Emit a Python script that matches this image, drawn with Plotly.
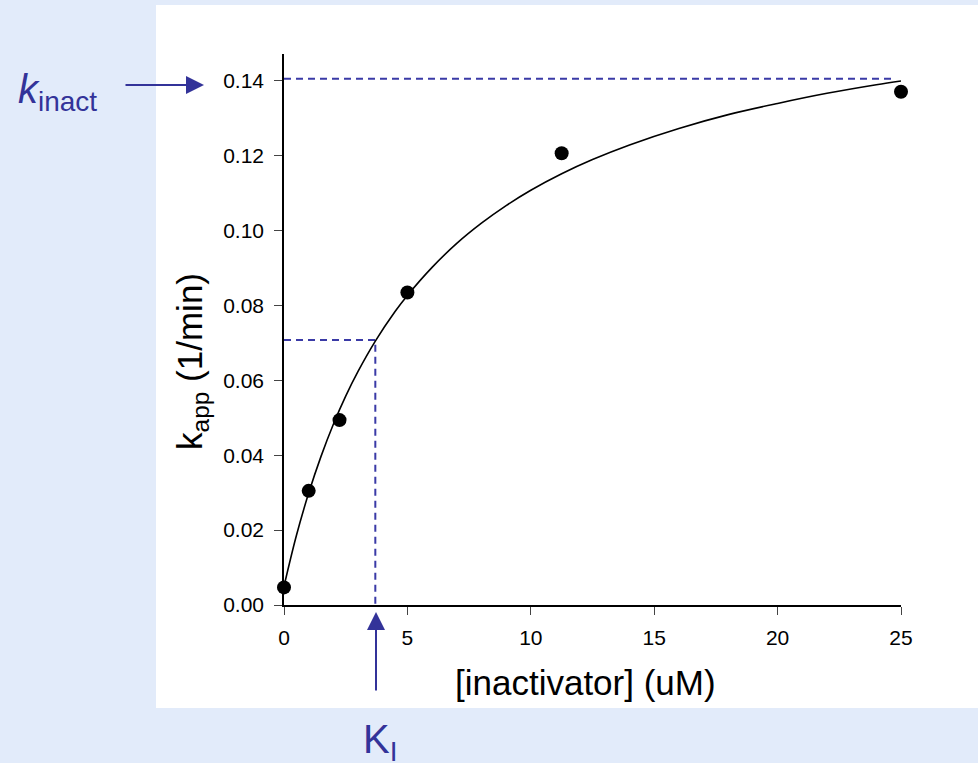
import plotly.graph_objects as go

# measured data points
conc = [0, 1, 2.25, 5, 11.25, 25]
kapp = [0.0047, 0.0305, 0.0494, 0.0835, 0.1207, 0.1371]

# fitted curve, values
fit_x = [0, 0.5, 1, 1.5, 2, 2.5, 3, 3.7, 4.5, 5, 6, 7, 8, 9, 10, 11.25,
         12.5, 14, 16, 18, 20, 22, 24, 25]
fit_y = [0.0050, 0.0185, 0.0299, 0.0397, 0.0483, 0.0558, 0.0624, 0.0705,
         0.0784, 0.0827, 0.0902, 0.0966, 0.1020, 0.1067, 0.1108, 0.1152,
         0.1190, 0.1229, 0.1273, 0.1310, 0.1340, 0.1367, 0.1390, 0.1400]

# guide lines
ki_x = [0, 3.7, 3.7]
ki_y = [0.0708, 0.0708, 0]
kinact_x = [0, 24.7]
kinact_y = [0.1406, 0.1406]

x_ticks = [0, 5, 10, 15, 20, 25]
y_ticks = [0, 0.02, 0.04, 0.06, 0.08, 0.10, 0.12, 0.14]

BLUE = "#333399"
DASH = "#3A3AA6"
W, H = 978, 763
L, R, T, B = 284, 77, 54, 158
pw, ph = W - L - R, H - T - B


def px(x):
    return (x - L) / pw


def py(y):
    return (H - B - y) / ph


fig = go.Figure()
fig.add_trace(go.Scatter(x=kinact_x, y=kinact_y, mode="lines",
                         line=dict(color=DASH, width=2, dash="7px,5px"),
                         hoverinfo="skip", cliponaxis=False))
fig.add_trace(go.Scatter(x=ki_x, y=ki_y, mode="lines",
                         line=dict(color=DASH, width=2, dash="7px,5px"),
                         hoverinfo="skip", cliponaxis=False))
fig.add_trace(go.Scatter(x=fit_x, y=fit_y, mode="lines",
                         line=dict(color="black", width=1.6, shape="spline"),
                         cliponaxis=False))
fig.add_trace(go.Scatter(x=conc, y=kapp, mode="markers",
                         marker=dict(color="black", size=14),
                         cliponaxis=False))

fig.add_shape(type="rect", xref="paper", yref="paper",
              x0=px(156), x1=px(980), y0=py(708), y1=py(5),
              fillcolor="white", line=dict(width=0), layer="below")

font = "Arial, Liberation Sans, sans-serif"
fig.update_layout(
    width=W, height=H, autosize=False,
    margin=dict(l=L, r=R, t=T, b=B),
    paper_bgcolor="#E2EBFA", plot_bgcolor="white",
    showlegend=False,
    font=dict(family=font, color="black"),
    xaxis=dict(range=[0, 25], tickvals=x_ticks, ticks="outside", ticklen=8,
               tickwidth=1.2, linecolor="black", linewidth=1.5, showgrid=False,
               zeroline=False, showline=True, tickfont=dict(size=21),
               ticklabelstandoff=5),
    yaxis=dict(range=[0, 0.1472], tickvals=y_ticks, tickformat=".2f",
               ticks="outside", ticklen=8, tickwidth=1.2, linecolor="black",
               linewidth=1.5, showgrid=False, zeroline=False, showline=True,
               tickfont=dict(size=21), ticklabelstandoff=6),
)

common = dict(xref="paper", yref="paper", xanchor="center", yanchor="middle")
anns = [
    dict(text="[inactivator] (uM)", x=px(585), y=py(682), showarrow=False,
         font=dict(size=35), **common),
    dict(text="k<sub>app</sub> (1/min)", x=px(192), y=py(362),
         showarrow=False, textangle=-90, font=dict(size=35), **common),
    dict(text="<i>k</i><sub>inact</sub>", x=px(57), y=py(92),
         showarrow=False, font=dict(size=40, color=BLUE), **common),
    dict(text="K<sub>I</sub>", x=px(380), y=py(742), showarrow=False,
         font=dict(size=40, color=BLUE), **common),
    dict(text="", xref="paper", yref="paper", x=px(204), y=py(85),
         ax=-80, ay=0, showarrow=True, arrowhead=2, arrowsize=1.8,
         arrowwidth=2, arrowcolor=BLUE, standoff=0),
    dict(text="", xref="paper", yref="paper", x=px(376), y=py(612),
         ax=0, ay=80, showarrow=True, arrowhead=2, arrowsize=1.8,
         arrowwidth=2, arrowcolor=BLUE, standoff=0),
]
fig.update_layout(annotations=anns)

fig.write_html("out.html")
